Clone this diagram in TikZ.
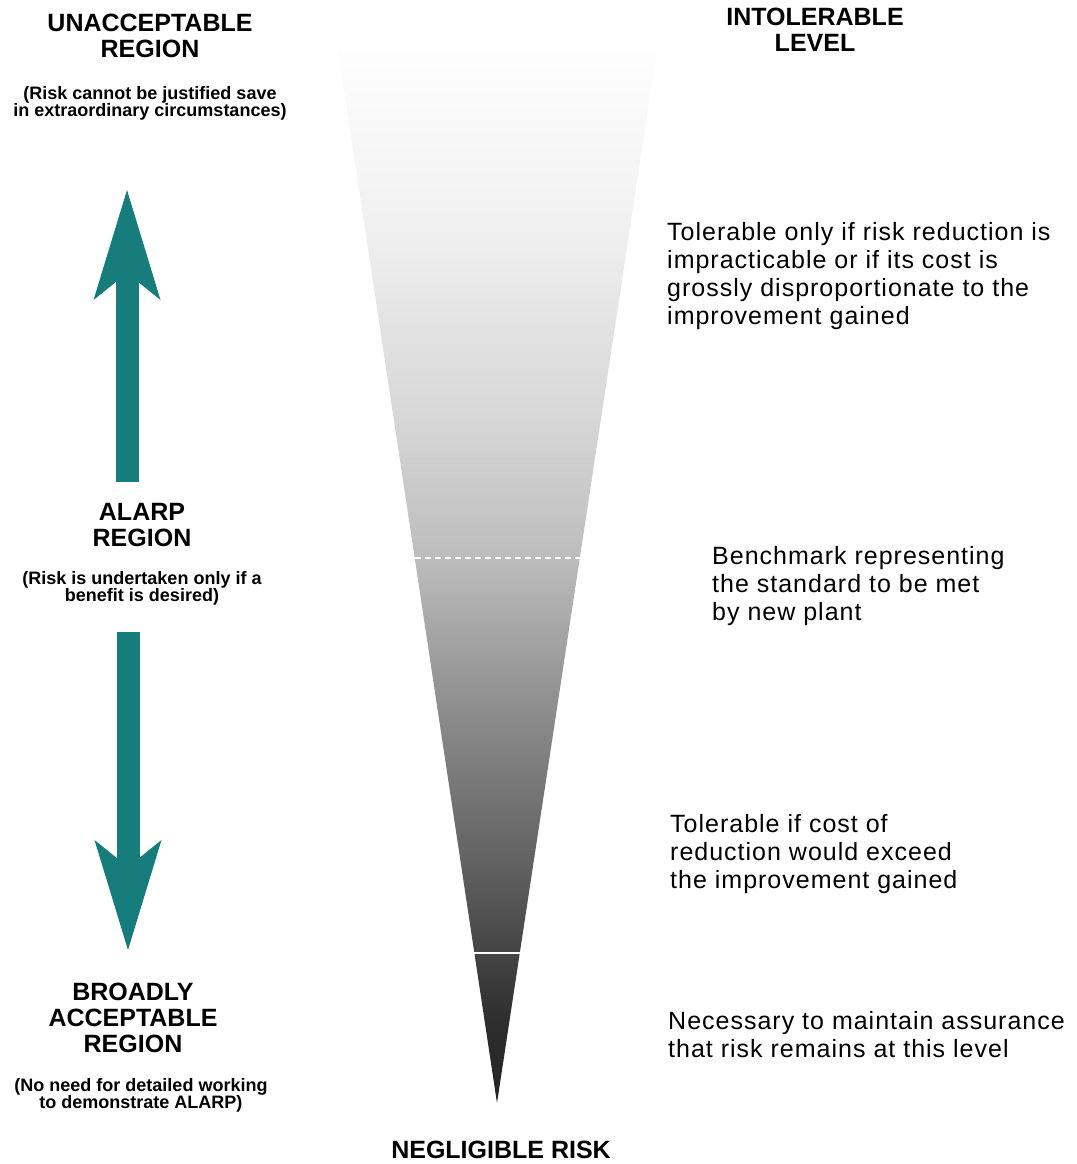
\documentclass[tikz,border=0pt]{standalone}
\usepackage{fontspec}
\setmainfont{Liberation Sans}
\usepackage{tikz}
\usetikzlibrary{positioning,arrows.meta,calc}

\definecolor{alarpteal}{RGB}{22,124,124}
\pgfdeclareverticalshading{riskfade}{100bp}{%
  rgb(0bp)=(0.14,0.14,0.14); rgb(25bp)=(0.14,0.14,0.14);
  rgb(28.9bp)=(0.18,0.18,0.18); rgb(36.1bp)=(0.376,0.376,0.376);
  rgb(43.2bp)=(0.54,0.54,0.54); rgb(50.9bp)=(0.74,0.74,0.74);
  rgb(57.4bp)=(0.84,0.84,0.84); rgb(66.9bp)=(0.945,0.945,0.945);
  rgb(75bp)=(0.995,0.995,0.995); rgb(100bp)=(0.995,0.995,0.995)}

\begin{document}
\begin{tikzpicture}[
  x=1pt, y=-1pt,
  head/.style={align=center, inner sep=0pt, font=\bfseries\fontsize{25}{26}\selectfont},
  note/.style={align=center, inner sep=0pt, font=\bfseries\fontsize{18}{17.5}\selectfont},
  remark/.style={align=left, inner sep=0pt, anchor=west, font=\fontsize{25}{28}\selectfont\addfontfeatures{LetterSpace=4}},
  bigarr/.style={alarpteal, line width=23pt, -{Stealth[length=110pt, width=67pt, inset=27pt, line width=0pt]}},
  level/.style={white, line width=1.5pt}
]
\useasboundingbox (0,0) rectangle (1076,1164);
% the risk triangle
\coordinate (toplt) at (338,50);
\coordinate (toprt) at (657,50);
\coordinate (apex) at (497,1103);
\shade[shading=riskfade] (toplt) -- (toprt) -- (apex) -- cycle;
\draw[level, dash pattern=on 6pt off 4pt] ($(toplt)!0.4824!(apex)$) -- ($(toprt)!0.4824!(apex)$);
\draw[level] ($(toplt)!0.8576!(apex)$) -- ($(toprt)!0.8576!(apex)$);

% left column
\node[head] (unacc) at (150,36) {UNACCEPTABLE\\REGION};
\node[note, below=28pt of unacc] (unaccnote) {(Risk cannot be justified save\\in extraordinary circumstances)};
\node[head] (alarp) at (142,525) {ALARP\\REGION};
\node[note, below=24pt of alarp] (alarpnote) {(Risk is undertaken only if a\\benefit is desired)};
\node[head] (broad) at (133,1018) {BROADLY\\ACCEPTABLE\\REGION};
\node[note, below=25pt of broad, xshift=8pt] (broadnote) {(No need for detailed working\\to demonstrate ALARP)};

\coordinate (uptail) at (127,482);
\coordinate (uptip) at (127,190);
\coordinate (downtail) at (128,632);
\coordinate (downtip) at (128,950);
\draw[bigarr] (uptail) -- (uptip);
\draw[bigarr] (downtail) -- (downtip);

% top and bottom of the triangle
\node[head] (intol) at (815,30) {INTOLERABLE\\LEVEL};
\node[head] (neglig) at (501,1150) {NEGLIGIBLE RISK};

% right column
\node[remark] (tolhigh) at (667,276.5) {Tolerable only if risk reduction is\\impracticable or if its cost is\\grossly disproportionate to the\\improvement gained};
\node[remark] (bench) at (712,586.5) {Benchmark representing\\the standard to be met\\by new plant};
\node[remark] (tollow) at (670,854.5) {Tolerable if cost of\\reduction would exceed\\the improvement gained};
\node[remark] (assur) at (668,1034.5) {Necessary to maintain assurance\\that risk remains at this level};
\end{tikzpicture}
\end{document}
